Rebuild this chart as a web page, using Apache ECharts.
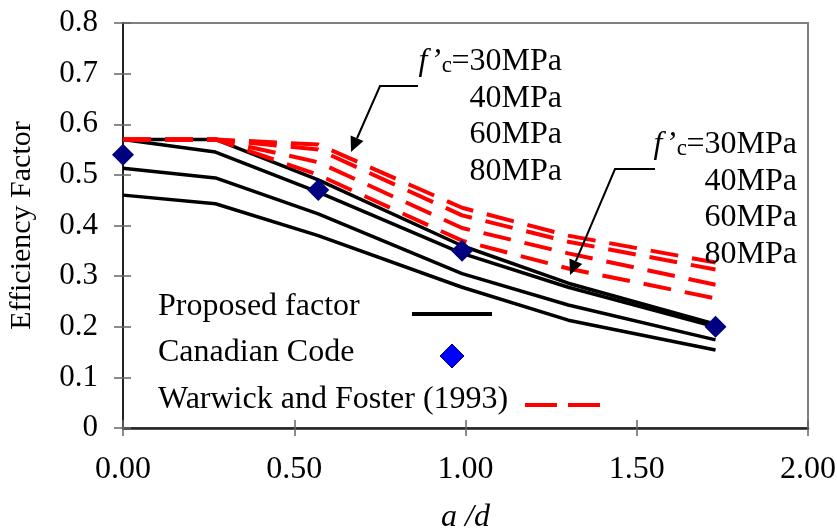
<!DOCTYPE html>
<html>
<head>
<meta charset="utf-8">
<script src="https://cdn.jsdelivr.net/npm/echarts@6/dist/echarts.min.js"></script>
<style>
  html, body { margin: 0; padding: 0; background: #fff; }
  #main { width: 837px; height: 532px; }
</style>
</head>
<body>
<div id="main"></div>
<script>
// a/d values where every curve has a point
const aOverD = [0, 0.27, 0.57, 0.99, 1.30, 1.73];

// proposed factor (black), f'c = 30 / 40 / 60 / 80 MPa
const proposed30 = [0.570, 0.570, 0.490, 0.360, 0.286, 0.205];
const proposed40 = [0.570, 0.545, 0.466, 0.345, 0.278, 0.200];
const proposed60 = [0.513, 0.494, 0.423, 0.305, 0.243, 0.174];
const proposed80 = [0.460, 0.443, 0.380, 0.278, 0.213, 0.154];

// Warwick and Foster (1993), red dashed
const warwick30 = [0.570, 0.570, 0.560, 0.435, 0.380, 0.327];
const warwick40 = [0.570, 0.570, 0.550, 0.420, 0.368, 0.313];
const warwick60 = [0.570, 0.570, 0.525, 0.395, 0.345, 0.283];
const warwick80 = [0.570, 0.570, 0.500, 0.370, 0.315, 0.256];

// Canadian Code points
const canadianX = [0, 0.57, 0.99, 1.73];
const canadianY = [0.54, 0.47, 0.35, 0.20];

const xTickLabels = ['0.00', '0.50', '1.00', '1.50', '2.00'];
const yTickLabels = ['0', '0.1', '0.2', '0.3', '0.4', '0.5', '0.6', '0.7', '0.8'];

const serif = '"Liberation Serif", "Times New Roman", serif';

function zip(xs, ys) {
    return xs.map((x, i) => [x, ys[i]]);
}

function blackLine(name, ys) {
    return {
        name: name, type: 'line', data: zip(aOverD, ys),
        symbol: 'none', z: 2,
        lineStyle: { color: '#000', width: 3.5 }
    };
}

function redLine(name, ys) {
    return {
        name: name, type: 'line', data: zip(aOverD, ys),
        symbol: 'none', z: 3,
        lineStyle: { color: '#ff0000', width: 4, type: [28, 14] }
    };
}

function txt(str, x, base, align, font) {
    return {
        type: 'text', x: x, y: base - 10, z: 10,
        style: {
            text: str, fill: '#000', align: align || 'left', verticalAlign: 'middle',
            font: font || ('32px ' + serif)
        }
    };
}

// label with f'c prefix, right edge at x
function fcLabel(right, base) {
    const out = [];
    out.push(txt('=30MPa', right, base, 'right'));
    out.push(txt('c', right - 110, base + 4, 'right', '23px ' + serif));
    out.push(txt('f\u2019', right - 121, base, 'right', 'italic 32px ' + serif));
    out.push(txt('40MPa', right, base + 36.5, 'right'));
    out.push(txt('60MPa', right, base + 73, 'right'));
    out.push(txt('80MPa', right, base + 110, 'right'));
    return out;
}

function arrow(hx, hy, kx, ky, tx, ty) {
    const dx = tx - kx, dy = ty - ky;
    const len = Math.sqrt(dx * dx + dy * dy);
    const ux = dx / len, uy = dy / len;
    const L = 15, W = 7;
    const bx = tx - ux * L, by = ty - uy * L;
    return [
        {
            type: 'polyline', z: 10,
            shape: { points: [[hx, hy], [kx, ky], [bx, by]] },
            style: { stroke: '#000', lineWidth: 2, fill: null }
        },
        {
            type: 'polygon', z: 10,
            shape: { points: [[tx, ty], [bx - uy * W, by + ux * W], [bx + uy * W, by - ux * W]] },
            style: { fill: '#000' }
        }
    ];
}

const graphics = [].concat(
    // legend block
    txt('Proposed factor', 158, 317),
    [{ type: 'line', z: 10, shape: { x1: 412, y1: 314, x2: 492, y2: 314 },
       style: { stroke: '#000', lineWidth: 4 } }],
    txt('Canadian Code', 158, 363),
    [{ type: 'polygon', z: 10,
       shape: { points: [[452, 344], [464, 356], [452, 368], [440, 356]] },
       style: { fill: '#0000ff', stroke: '#000080', lineWidth: 1 } }],
    txt('Warwick and Foster (1993)', 158, 410),
    [{ type: 'line', z: 10, shape: { x1: 525, y1: 405, x2: 557, y2: 405 },
       style: { stroke: '#ff0000', lineWidth: 4 } },
     { type: 'line', z: 10, shape: { x1: 568, y1: 405, x2: 600, y2: 405 },
       style: { stroke: '#ff0000', lineWidth: 4 } }],
    // annotations
    fcLabel(562, 72),
    fcLabel(797, 155),
    arrow(418, 86, 380, 86, 351, 152),
    arrow(655, 169, 615, 169, 570, 275)
);

const chart = echarts.init(document.getElementById('main'), null, { renderer: 'canvas' });

chart.setOption({
    animation: false,
    backgroundColor: '#fff',
    grid: {
        left: 123, right: 29, top: 23, bottom: 104,
        outerBoundsMode: 'none', containLabel: false,
        show: true, borderColor: '#808080', borderWidth: 2
    },
    xAxis: [
        {
            type: 'value', min: 0, max: 2, interval: 0.5, position: 'bottom',
            name: 'a /d', nameLocation: 'middle', nameGap: 74,
            nameTextStyle: { fontFamily: serif, fontSize: 32, fontStyle: 'italic', color: '#000' },
            axisLine: { show: true, lineStyle: { color: '#222', width: 2.5 } },
            axisTick: { show: true, length: 8, lineStyle: { color: '#666', width: 1.5 } },
            axisLabel: {
                margin: 26, color: '#000', fontFamily: serif, fontSize: 32,
                formatter: v => xTickLabels[Math.round(v / 0.5)]
            },
            splitLine: { show: false }
        },
        {
            type: 'value', min: 0, max: 2, interval: 0.5, position: 'bottom',
            axisLine: { show: false },
            axisTick: { show: true, inside: true, length: 8, lineStyle: { color: '#666', width: 1.5 } },
            axisLabel: { show: false },
            splitLine: { show: false }
        }
    ],
    yAxis: [
        {
            type: 'value', min: 0, max: 0.8, interval: 0.1, position: 'left',
            name: 'Efficiency Factor', nameLocation: 'middle', nameGap: 86,
            nameTextStyle: { fontFamily: serif, fontSize: 30, color: '#000' },
            axisLine: { show: true, lineStyle: { color: '#222', width: 2 } },
            axisTick: { show: true, length: 9, lineStyle: { color: '#666', width: 1.5 } },
            axisLabel: {
                margin: 25, color: '#000', fontFamily: serif, fontSize: 31,
                formatter: v => yTickLabels[Math.round(v / 0.1)]
            },
            splitLine: { show: false }
        },
        {
            type: 'value', min: 0, max: 0.8, interval: 0.1, position: 'left',
            axisLine: { show: false },
            axisTick: { show: true, inside: true, length: 8, lineStyle: { color: '#666', width: 1.5 } },
            axisLabel: { show: false },
            splitLine: { show: false }
        }
    ],
    series: [
        blackLine('Proposed 30MPa', proposed30),
        blackLine('Proposed 40MPa', proposed40),
        blackLine('Proposed 60MPa', proposed60),
        blackLine('Proposed 80MPa', proposed80),
        redLine('Warwick 30MPa', warwick30),
        redLine('Warwick 40MPa', warwick40),
        redLine('Warwick 60MPa', warwick60),
        redLine('Warwick 80MPa', warwick80),
        {
            name: 'Canadian Code', type: 'scatter', z: 5,
            data: zip(canadianX, canadianY),
            symbol: 'diamond', symbolSize: [22, 22],
            itemStyle: { color: '#000080', opacity: 1 }
        }
    ],
    graphic: graphics
});
</script>
</body>
</html>
